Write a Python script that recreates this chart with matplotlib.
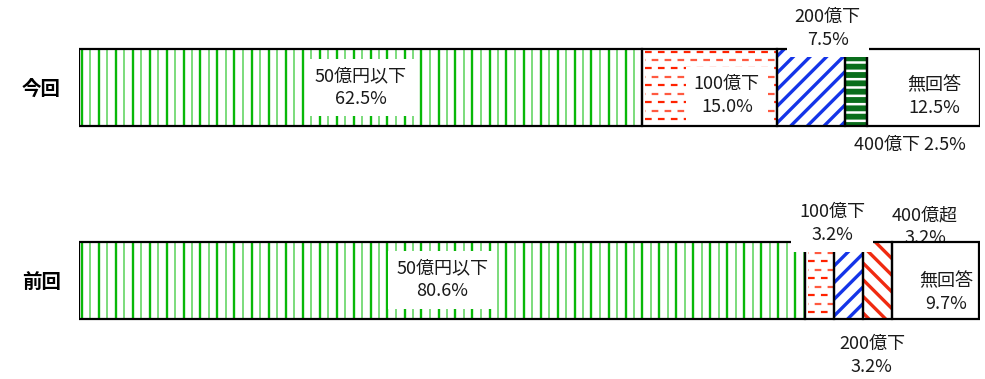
import numpy as np
import matplotlib
matplotlib.use('Agg')
import matplotlib.pyplot as plt

plt.rcParams['font.family'] = ['Noto Sans CJK JP', 'DejaVu Sans']
plt.rcParams['lines.scale_dashes'] = False

# データ
categories = ['今回', '前回']
kon_labels = ['50億円以下', '100億下', '200億下', '400億下', '無回答']
kon_values = [62.5, 15.0, 7.5, 2.5, 12.5]
zen_labels = ['50億円以下', '100億下', '200億下', '400億超', '無回答']
zen_values = [80.6, 3.2, 3.2, 3.2, 9.7]

# ラベル位置 (区間中央からのずれ dx, 棒中央からのずれ dy, 白背景, 1行表示, 棒の下に描く)
kon_layout = [(0.0, 0.0, True, False, False),
              (1.9, -0.042, True, False, False),
              (1.85, 0.306, True, False, False),
              (5.95, -0.299, False, True, False),
              (1.15, -0.047, False, False, False)]
zen_layout = [(0.0, 0.0, True, False, False),
              (1.4, 0.294, True, False, False),
              (2.6, -0.39, False, False, False),
              (5.3, 0.278, False, False, True),
              (1.25, -0.065, False, False, False)]

H = 0.4
PX_X = 901 / 100.0   # 1% あたりのピクセル
PX_Y = 192.5         # y 1 単位あたりのピクセル


def fill_vlines(ax, x0, x1, yc):
    # 緑の縦線(濃淡交互)
    xs = np.arange(x0 + 2.5 / PX_X, x1, 8.5 / PX_X)
    for i, x in enumerate(xs):
        if i % 2 == 0:
            ax.vlines(x, yc - H / 2, yc + H / 2, colors='#08b808', lw=1.7, zorder=2.5)
        else:
            ax.vlines(x, yc - H / 2, yc + H / 2, colors='#66d666', lw=1.2, zorder=2.5)


def fill_dashes(ax, x0, x1, yc):
    # 赤の破線(行ごとにずらす)
    ys = np.arange(yc + H / 2 - 2.5 / PX_Y, yc - H / 2, -8.5 / PX_Y)
    for i, y in enumerate(ys):
        off = 0 if i % 2 == 0 else 4.5
        col = '#ff2200' if i % 2 == 0 else '#ff5a40'
        ax.plot([x0 + 3 / PX_X, x1], [y, y], color=col, lw=1.6,
                linestyle=(off, (4.8, 4.5)), zorder=2.5)


def hatch_bar(ax, yc, left, width, hatch, color, face='white', hlw=2.0):
    b = ax.barh(yc, width, left=left, height=H, color=face, edgecolor=color,
                hatch=hatch, lw=0, zorder=2)[0]
    if hasattr(b, 'set_hatch_linewidth'):
        b.set_hatch_linewidth(hlw)


def draw_segment(ax, name, yc, left, width):
    if name == '50億円以下':
        ax.barh(yc, width, left=left, height=H, color='white', lw=0, zorder=2)
        fill_vlines(ax, left, left + width, yc)
    elif name == '100億下':
        ax.barh(yc, width, left=left, height=H, color='white', lw=0, zorder=2)
        fill_dashes(ax, left, left + width, yc)
    elif name == '200億下':
        hatch_bar(ax, yc, left, width, '//', '#1434e8', hlw=2.4)
    elif name == '400億下':
        hatch_bar(ax, yc, left, width, '--', 'white', face='#0a6e1c', hlw=1.8)
    elif name == '400億超':
        hatch_bar(ax, yc, left, width, '\\\\', '#f02a10', hlw=2.4)
    else:
        ax.barh(yc, width, left=left, height=H, color='white', lw=0, zorder=2)
    # 枠線
    ax.barh(yc, width, left=left, height=H, fill=False, edgecolor='black',
            lw=1.6, zorder=3)


fig = plt.figure(figsize=(9.85, 3.79), dpi=100)
ax = fig.add_axes([79 / 985, 0, 901 / 985, 1])
ax.set_xlim(0, 100)
ax.set_ylim(-99 / PX_Y, (379 - 99) / PX_Y)

rows = [(1.0, kon_labels, kon_values, kon_layout),
        (0.0, zen_labels, zen_values, zen_layout)]

for yc, labels, values, layout in rows:
    lefts = np.concatenate([[0], np.cumsum(values)[:-1]])
    for name, v, left, (dx, dy, boxed, one_line, behind) in zip(labels, values, lefts, layout):
        draw_segment(ax, name, yc, left, v)
        txt = f'{name} {v:.1f}%' if one_line else f'{name}\n{v:.1f}%'
        kw = dict(ha='center', va='center', fontsize=13, color='#1a1a1a',
                  linespacing=1.35, zorder=1 if behind else 4)
        if boxed:
            kw['bbox'] = dict(boxstyle='square,pad=0.45', fc='white', ec='none')
        ax.text(left + v / 2 + dx, yc + dy, txt, **kw)

ax.set_yticks([1.0, 0.0])
ax.set_yticklabels(categories, fontsize=14, fontweight='bold')
ax.tick_params(axis='y', length=0, pad=13)
ax.set_xticks([])
for s in ax.spines.values():
    s.set_visible(False)

fig.savefig('out.png', dpi=100)
